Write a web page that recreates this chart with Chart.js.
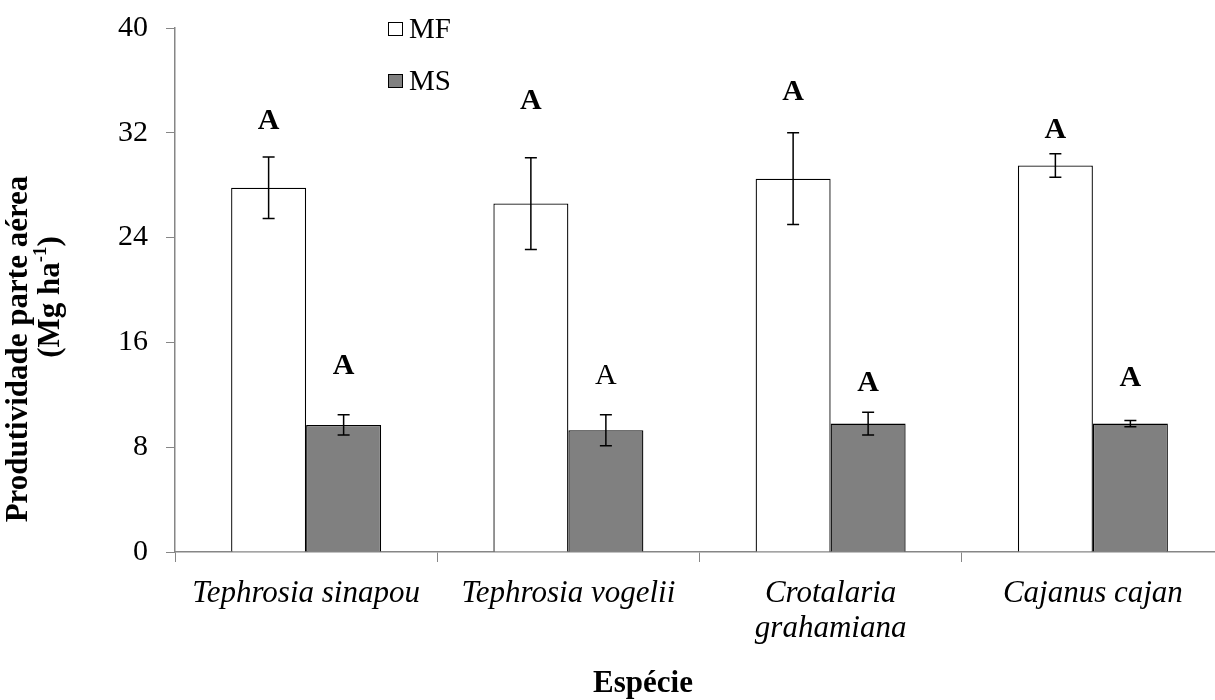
<!DOCTYPE html>
<html>
<head>
<meta charset="utf-8">
<script src="https://cdn.jsdelivr.net/npm/chart.js@4/dist/chart.umd.min.js"></script>
<style>
  html, body { margin: 0; padding: 0; background: #fff; overflow: hidden; }
  #wrap { width: 1230px; height: 700px; }
</style>
</head>
<body>
<div id="wrap"><canvas id="chart"></canvas></div>
<script>
// Chart data
const species = ['Tephrosia sinapou', 'Tephrosia vogelii', ['Crotalaria', 'grahamiana'], 'Cajanus cajan'];
const mfValues = [27.8, 26.6, 28.5, 29.5];
const mfErrors = [2.35, 3.5, 3.5, 0.9];
const msValues = [9.7, 9.3, 9.8, 9.8];
const msErrors = [0.77, 1.18, 0.87, 0.23];
// letters of the mean test and the height (in Mg/ha) where each sits
const mfLetters = ['A', 'A', 'A', 'A'];
const mfLetterY = [32.85, 34.4, 35.1, 32.2];
const msLetters = ['A', 'A', 'A', 'A'];
const msLetterY = [14.2, 13.4, 12.9, 13.25];
const msLetterBold = [true, false, true, true];
const yTicks = [0, 8, 16, 24, 32, 40];

const serif = '"Liberation Serif", "Times New Roman", serif';
const axisGray = '#868686';

// error bars, letters, legend and axis titles
const annotations = {
    id: 'annotations',
    afterDatasetsDraw(chart) {
        const ctx = chart.ctx;
        const y = chart.scales.y;
        const sets = [
            { errs: mfErrors, letters: mfLetters, ly: mfLetterY, bold: [true, true, true, true] },
            { errs: msErrors, letters: msLetters, ly: msLetterY, bold: msLetterBold }
        ];
        ctx.save();
        sets.forEach((s, di) => {
            const meta = chart.getDatasetMeta(di);
            meta.data.forEach((bar, i) => {
                const v = chart.data.datasets[di].data[i];
                const top = y.getPixelForValue(v + s.errs[i]);
                const bot = y.getPixelForValue(v - s.errs[i]);
                ctx.strokeStyle = '#000';
                ctx.lineWidth = 1.5;
                ctx.beginPath();
                ctx.moveTo(bar.x, top); ctx.lineTo(bar.x, bot);
                ctx.moveTo(bar.x - 6, top); ctx.lineTo(bar.x + 6, top);
                ctx.moveTo(bar.x - 6, bot); ctx.lineTo(bar.x + 6, bot);
                ctx.stroke();

                ctx.fillStyle = '#000';
                ctx.font = (s.bold[i] ? 'bold ' : '') + '30px ' + serif;
                ctx.textAlign = 'center';
                ctx.textBaseline = 'middle';
                ctx.fillText(s.letters[i], bar.x, y.getPixelForValue(s.ly[i]));
            });
        });

        // legend
        ctx.font = '29px ' + serif;
        ctx.textAlign = 'left';
        ctx.textBaseline = 'middle';
        chart.data.datasets.forEach((ds, di) => {
            const cy = 29 + di * 52;
            ctx.fillStyle = ds.backgroundColor;
            ctx.fillRect(388, cy - 7, 15, 14);
            ctx.strokeStyle = '#000';
            ctx.lineWidth = 1;
            ctx.strokeRect(388.5, cy - 6.5, 14, 13);
            ctx.fillStyle = '#000';
            ctx.fillText(ds.label, 409, cy + 1);
        });

        // y title (two lines, superscript -1)
        ctx.font = 'bold 31px ' + serif;
        ctx.textAlign = 'center';
        ctx.translate(19, 349);
        ctx.rotate(-Math.PI / 2);
        ctx.fillText('Produtividade parte aérea', 0, 0);
        const base = '(Mg ha';
        const sup = '-1';
        const close = ')';
        const wBase = ctx.measureText(base).width;
        const wClose = ctx.measureText(close).width;
        ctx.font = 'bold 19px ' + serif;
        const wSup = ctx.measureText(sup).width;
        let x0 = 52 - (wBase + wSup + wClose) / 2;
        ctx.textAlign = 'left';
        ctx.font = 'bold 31px ' + serif;
        ctx.fillText(base, x0, 32);
        ctx.font = 'bold 19px ' + serif;
        ctx.fillText(sup, x0 + wBase, 22);
        ctx.font = 'bold 31px ' + serif;
        ctx.fillText(close, x0 + wBase + wSup, 32);
        ctx.restore();

        // x title
        ctx.save();
        ctx.fillStyle = '#000';
        ctx.font = 'bold 31px ' + serif;
        ctx.textAlign = 'center';
        ctx.textBaseline = 'middle';
        ctx.fillText('Espécie', 643, 684);
        ctx.restore();
    }
};

document.addEventListener('DOMContentLoaded', function () {
    const ctx = document.getElementById('chart').getContext('2d');
    new Chart(ctx, {
        type: 'bar',
        data: {
            labels: species,
            datasets: [
                {
                    label: 'MF',
                    data: mfValues,
                    backgroundColor: '#ffffff',
                    borderColor: '#000000',
                    borderWidth: 1.3,
                    borderSkipped: 'bottom'
                },
                {
                    label: 'MS',
                    data: msValues,
                    backgroundColor: '#808080',
                    borderColor: '#000000',
                    borderWidth: 1.3,
                    borderSkipped: 'bottom'
                }
            ]
        },
        options: {
            responsive: true,
            maintainAspectRatio: false,
            animation: false,
            datasets: {
                bar: {
                    barPercentage: 1,
                    categoryPercentage: 0.572
                }
            },
            layout: {
                padding: { top: 28, right: 6, left: 0, bottom: 0 }
            },
            plugins: {
                legend: { display: false },
                tooltip: { enabled: false }
            },
            scales: {
                x: {
                    grid: {
                        offset: true,
                        drawOnChartArea: false,
                        color: axisGray,
                        tickLength: 10
                    },
                    border: { color: axisGray, width: 1.5 },
                    ticks: {
                        color: '#000',
                        maxRotation: 0,
                        autoSkip: false,
                        padding: 14,
                        font: { family: serif, size: 31, style: 'italic', lineHeight: 1.13 }
                    },
                    afterFit: (scale) => {
                        scale.height = 148;
                        scale.paddingLeft = 0;
                        scale.paddingRight = 0;
                    }
                },
                y: {
                    min: 0,
                    max: 40,
                    afterBuildTicks: (scale) => { scale.ticks = yTicks.map(v => ({ value: v })); },
                    grid: {
                        drawOnChartArea: false,
                        color: axisGray,
                        tickLength: 9
                    },
                    border: { color: axisGray, width: 1.5 },
                    ticks: {
                        color: '#000',
                        padding: 18,
                        font: { family: serif, size: 30 }
                    },
                    afterFit: (scale) => {
                        scale.width = 175;
                        scale.paddingTop = 0;
                        scale.paddingBottom = 0;
                    }
                }
            }
        },
        plugins: [annotations]
    });
});
</script>
</body>
</html>
